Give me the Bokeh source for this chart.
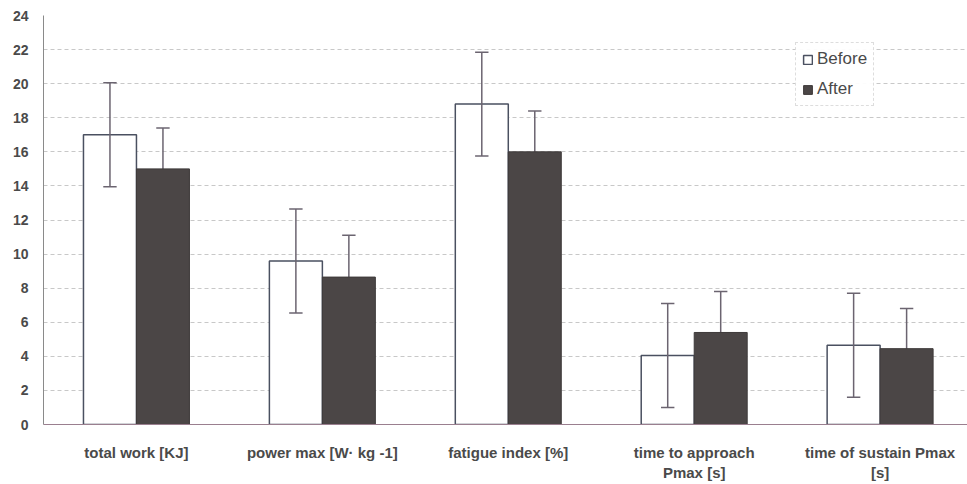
import numpy as np
from bokeh.plotting import figure
from bokeh.models import Range1d, FixedTicker, Legend, LegendItem, ColumnDataSource
from bokeh.embed import file_html
from bokeh.resources import INLINE

categories = ["total work [KJ]", "power max [W\u00b7 kg -1]", "fatigue index [%]",
              "time to approach\nPmax [s]", "time of sustain Pmax\n[s]"]
before = [17.0, 9.6, 18.8, 4.05, 4.65]
before_err = [3.05, 3.05, 3.05, 3.05, 3.05]
after = [15.0, 8.65, 16.0, 5.4, 4.45]
after_err = [2.4, 2.45, 2.4, 2.4, 2.35]
y_ticks = list(range(0, 25, 2))

FONT = "Liberation Sans"
TXT = "#4a4a4a"

x = np.arange(len(categories)) + 0.5
off = 0.1425
bw = 0.285

p = figure(width=967, height=484, output_backend="svg", toolbar_location=None,
           x_range=Range1d(0, 4.97), y_range=Range1d(0, 24),
           min_border_left=43, min_border_right=0, min_border_top=15, min_border_bottom=60)
p.outline_line_color = None
p.background_fill_color = "white"
p.border_fill_color = "white"

b = np.array(before); a = np.array(after)
be = np.array(before_err); ae = np.array(after_err)

src_b = ColumnDataSource(dict(x=x - off, top=b, lo=b - be, hi=b + be))
src_a = ColumnDataSource(dict(x=x + off, top=a, lo=a - ae, hi=a + ae))

cap = 0.036
ecol = "#6b6470"
# after error bars drawn below the bars
p.segment(x0="x", y0="lo", x1="x", y1="hi", source=src_a, line_color=ecol, line_width=1.5)
p.segment(x0=x + off - cap, y0=a + ae, x1=x + off + cap, y1=a + ae, line_color=ecol, line_width=1.5)

rb = p.vbar(x="x", top="top", width=bw, source=src_b, fill_color="white",
            line_color="#4a5060", line_width=1.5)
ra = p.vbar(x="x", top="top", width=bw, source=src_a, fill_color="#4b4646",
            line_color="#3e3a3a", line_width=1)

p.segment(x0="x", y0="lo", x1="x", y1="hi", source=src_b, line_color=ecol, line_width=1.5)
p.segment(x0=x - off - cap, y0=b + be, x1=x - off + cap, y1=b + be, line_color=ecol, line_width=1.5)
p.segment(x0=x - off - cap, y0=b - be, x1=x - off + cap, y1=b - be, line_color=ecol, line_width=1.5)

p.xaxis.ticker = FixedTicker(ticks=list(x))
p.xaxis.major_label_overrides = {float(xi): c for xi, c in zip(x, categories)}
p.yaxis.ticker = FixedTicker(ticks=y_ticks)

for ax in (p.xaxis, p.yaxis):
    ax.major_label_text_font = FONT
    ax.major_label_text_font_style = "bold"
    ax.major_label_text_color = TXT
    ax.axis_line_color = "#8a8a8a"
    ax.major_tick_line_color = None
    ax.minor_tick_line_color = None
p.xaxis.major_label_text_font_size = "15px"
p.yaxis.major_label_text_font_size = "14px"
p.xaxis.major_label_standoff = 13
p.yaxis.major_label_standoff = 9
p.xaxis.axis_line_color = "#9a7f8f"

p.xgrid.grid_line_color = None
p.ygrid.grid_line_color = "#c8c8c8"
p.ygrid.grid_line_dash = "4 3"

legend = Legend(items=[LegendItem(label="Before", renderers=[rb]),
                       LegendItem(label="After", renderers=[ra])],
                location=(752, 318))
legend.label_text_font = FONT
legend.label_text_font_size = "17px"
legend.label_text_color = TXT
legend.glyph_width = 11
legend.glyph_height = 11
legend.label_standoff = 4
legend.spacing = 10
legend.padding = 6
legend.margin = 0
legend.label_height = 18
legend.border_line_color = "#bdbdbd"
legend.border_line_dash = "4 3"
legend.background_fill_color = "white"
p.add_layout(legend)

open("out.html", "w").write(file_html(p, INLINE))
